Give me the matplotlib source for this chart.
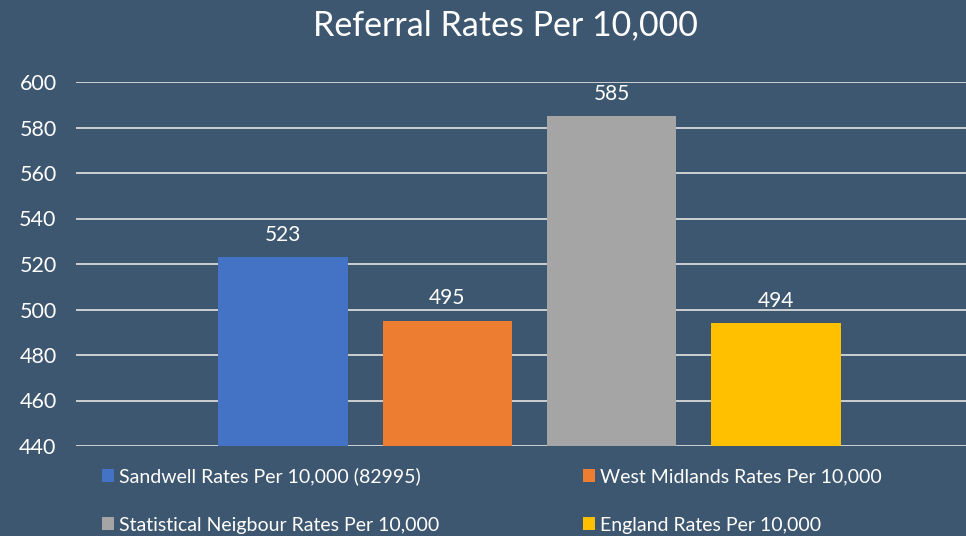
import matplotlib
matplotlib.use('Agg')
from matplotlib import pyplot as plt

# ----- DATA ----- #
series = ['Sandwell Rates Per 10,000 (82995)', 'West Midlands Rates Per 10,000',
          'Statistical Neigbour Rates Per 10,000', 'England Rates Per 10,000']
values = [523, 495, 585, 494]
colors = ['#4472C4', '#ED7D31', '#A5A5A5', '#FFC000']
yticks = [440, 460, 480, 500, 520, 540, 560, 580, 600]

bg = '#3E5771'
plt.rcParams['font.family'] = ['Lato', 'DejaVu Sans']

fig = plt.figure(figsize=(9.66, 5.36), dpi=100, facecolor=bg)
ax = fig.add_axes([76 / 966, 1 - 446 / 536, (983 - 76) / 966, (446 - 82) / 536])
ax.set_facecolor(bg)

pos = list(range(len(values)))
bars = []
for i in pos:
    b = ax.bar(i, values[i], width=0.79, color=colors[i], label=series[i], zorder=3)
    ax.bar_label(b, labels=[str(values[i])], padding=9, color='white', fontsize=15)
    bars.append(b)

ax.set_ylim(440, 600)
ax.set_xlim(-1.262, 4.262)
ax.set_yticks(yticks)
ax.set_xticks([])
ax.yaxis.grid(True, color='#D9D9D9', linewidth=1.3, zorder=0)
ax.set_axisbelow(True)
for s in ax.spines.values():
    s.set_visible(False)
ax.tick_params(axis='y', length=0, pad=14, labelcolor='white', labelsize=15.5)

# title
fig.text(505 / 966, 1 - 25 / 536, 'Referral Rates Per 10,000', color='white',
         fontsize=24.5, ha='center', va='center')

# legend (row order like the original)
order = [0, 2, 1, 3]
leg = fig.legend([bars[k] for k in order], [series[k] for k in order],
                 ncol=2, loc='upper left', bbox_to_anchor=(84 / 966, 1 - 450 / 536),
                 frameon=False, fontsize=14, labelcolor='white',
                 handlelength=0.62, handleheight=0.62, handletextpad=0.26,
                 labelspacing=1.6, columnspacing=7.4)

plt.savefig('out.png', dpi=100, facecolor=bg)
